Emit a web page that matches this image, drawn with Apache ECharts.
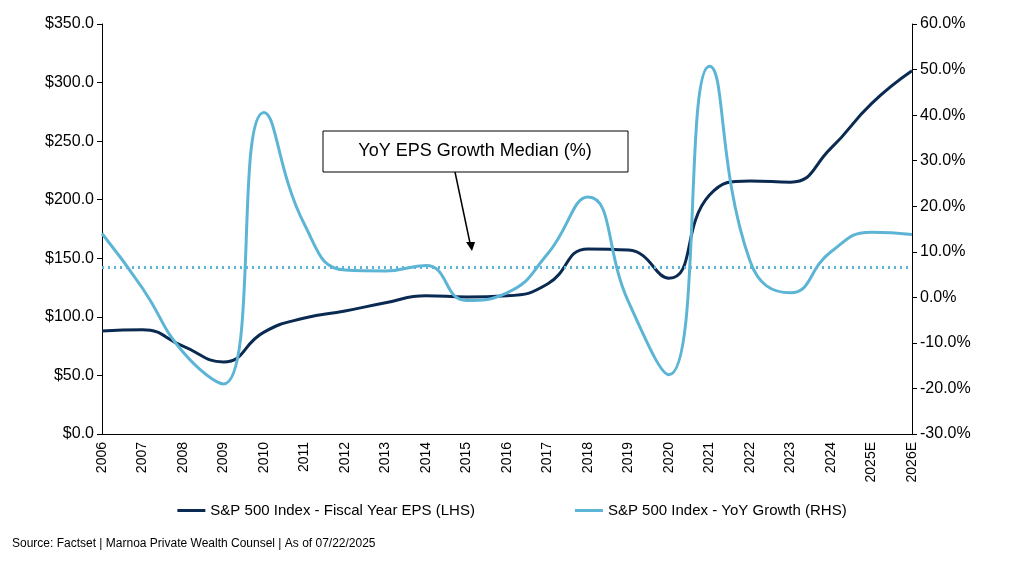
<!DOCTYPE html>
<html>
<head>
<meta charset="utf-8">
<script src="https://cdn.jsdelivr.net/npm/echarts@6/dist/echarts.min.js"></script>
<style>html,body{margin:0;padding:0;background:#fff}#chart{width:1024px;height:563px}</style>
</head>
<body>
<div id="chart"></div>
<script>
var years = ['2006','2007','2008','2009','2010','2011','2012','2013','2014','2015','2016','2017','2018','2019','2020','2021','2022','2023','2024','2025E','2026E'];
var epsValues = [88, 89, 75, 61.5, 87, 99, 105, 112, 118, 117, 118, 128, 158, 157, 133, 204, 216, 215, 244, 282, 310];
var yoyValues = [14, 2, -12, -19, 40.6, 16, 6, 5.8, 7, -0.7, 1, 9.5, 22, -1, -17, 50.7, 8, 1, 10, 14.3, 13.8];
var yoyMedian = 6.6;
var leftTicks = { min: 0, max: 350, interval: 50 };
var rightTicks = { min: -30, max: 60, interval: 10 };

var chart = echarts.init(document.getElementById('chart'));
var font = 'Arial, "Liberation Sans", sans-serif';
chart.setOption({
    animation: false,
    textStyle: { fontFamily: font },
    grid: { left: 102, right: 112, top: 24, bottom: 129 },
    legend: {
        bottom: 40, left: 'center', itemGap: 100, itemWidth: 28, itemHeight: 3,
        icon: 'rect',
        textStyle: { fontSize: 15, color: '#000', fontFamily: font },
        data: ['S&P 500 Index - Fiscal Year EPS (LHS)', 'S&P 500 Index - YoY Growth (RHS)']
    },
    xAxis: {
        type: 'category', data: years, boundaryGap: false,
        axisLine: { lineStyle: { color: '#000' } },
        axisTick: { show: false },
        axisLabel: { rotate: 90, color: '#000', fontSize: 14, interval: 0, fontFamily: font }
    },
    yAxis: [{
        type: 'value', min: leftTicks.min, max: leftTicks.max, interval: leftTicks.interval,
        splitLine: { show: false },
        axisLine: { show: true, lineStyle: { color: '#000' } },
        axisTick: { show: true, lineStyle: { color: '#000' } },
        axisLabel: { color: '#000', fontSize: 16, fontFamily: font, formatter: function (v) { return '$' + v.toFixed(1); } }
    }, {
        type: 'value', min: rightTicks.min, max: rightTicks.max, interval: rightTicks.interval,
        splitLine: { show: false },
        axisLine: { show: true, lineStyle: { color: '#000' } },
        axisTick: { show: true, lineStyle: { color: '#000' } },
        axisLabel: { color: '#000', fontSize: 16, fontFamily: font, formatter: function (v) { return v.toFixed(1) + '%'; } }
    }],
    series: [{
        name: 'S&P 500 Index - Fiscal Year EPS (LHS)', type: 'line', yAxisIndex: 0,
        data: epsValues, smooth: true, symbol: 'none',
        lineStyle: { color: '#0b2a52', width: 3 }, itemStyle: { color: '#0b2a52' }
    }, {
        name: 'S&P 500 Index - YoY Growth (RHS)', type: 'line', yAxisIndex: 1,
        data: yoyValues, smooth: true, symbol: 'none',
        lineStyle: { color: '#5db5d5', width: 3 }, itemStyle: { color: '#5db5d5' },
        markLine: {
            symbol: 'none', silent: true, label: { show: false },
            lineStyle: { color: '#5db5d5', type: [2, 4], width: 3 },
            data: [{ yAxis: yoyMedian }]
        }
    }],
    graphic: [{
        type: 'rect', shape: { x: 323, y: 131, width: 305, height: 41 },
        style: { fill: '#fff', stroke: '#000', lineWidth: 1 }
    }, {
        type: 'text', x: 475, y: 151,
        style: { text: 'YoY EPS Growth Median (%)', fontSize: 18, fill: '#000', fontFamily: font, align: 'center', verticalAlign: 'middle' }
    }, {
        type: 'line', shape: { x1: 455, y1: 172, x2: 470, y2: 243 },
        style: { stroke: '#000', lineWidth: 1.5 }
    }, {
        type: 'polygon', shape: { points: [[466, 242], [475, 242], [472, 251]] },
        style: { fill: '#000' }
    }, {
        type: 'text', left: 12, top: 538,
        style: { text: 'Source: Factset | Marnoa Private Wealth Counsel | As of 07/22/2025', fontSize: 12, fill: '#000', fontFamily: font }
    }]
});
</script>
</body>
</html>
